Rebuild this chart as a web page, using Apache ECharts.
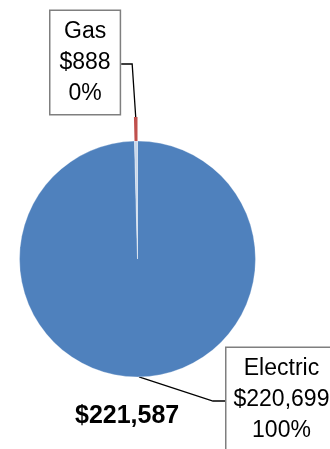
<!DOCTYPE html>
<html>
<head>
    <meta charset="utf-8">
    <title>Energy cost pie</title>
    <script src="https://cdn.jsdelivr.net/npm/echarts@6/dist/echarts.min.js"></script>
    <style>
        html, body { margin: 0; padding: 0; background: #fff; }
        #main { width: 330px; height: 449px; }
    </style>
</head>
<body>
<div id="main"></div>
<script>
    // data
    var names = ['Electric', 'Gas'];
    var values = [220699, 888];
    var colors = ['#4f81bd', '#c0504d'];

    var FONT = '"Liberation Sans", Arial, sans-serif';

    // where the label boxes sit (left / top of box), and which ring carries the label
    var boxPos = {
        Electric: { left: 225, top: 348, side: 'right', pad: [5, 7], series: 0 },
        Gas: { left: 49, top: 11, side: 'left', pad: [5, 9], series: 1 }
    };

    function money(v) {
        return '$' + String(v).replace(/\B(?=(\d{3})+(?!\d))/g, ',');
    }

    var total = values.reduce(function (a, b) { return a + b; }, 0);

    function labelCfg(name, show) {
        return {
            show: show,
            position: 'outside',
            formatter: function (p) {
                return p.name + '\n' + money(p.value) + '\n' + p.percent + '%';
            },
            color: '#000',
            fontFamily: FONT,
            fontSize: 23,
            lineHeight: 31,
            align: 'center',
            backgroundColor: '#fff',
            borderColor: '#7f7f7f',
            borderWidth: 1.5,
            padding: boxPos[name].pad
        };
    }

    // inner pie: the main disc
    var innerData = names.map(function (n, i) {
        return {
            name: n,
            value: values[i],
            itemStyle: { color: i === 0 ? colors[0] : '#c8d6ea' },
            label: labelCfg(n, boxPos[n].series === 0),
            labelLine: { show: boxPos[n].series === 0 }
        };
    });

    // outer ring: only the small gas slice sticks out
    var outerData = names.map(function (n, i) {
        return {
            name: n,
            value: values[i],
            itemStyle: { color: i === 0 ? 'rgba(0,0,0,0)' : colors[1] },
            label: labelCfg(n, boxPos[n].series === 1),
            labelLine: { show: boxPos[n].series === 1 }
        };
    });

    function placeLabel(params) {
        var name = names[params.dataIndex];
        var b = boxPos[name];
        if (!b || b.series !== params.seriesIndex || !params.labelLinePoints) return;
        var w = params.labelRect.width;
        var h = params.labelRect.height;
        var midY = b.top + h / 2;
        var p0 = params.labelLinePoints[0];
        var endX = b.side === 'left' ? b.left + w : b.left;
        var bendX = b.side === 'left' ? endX + 11 : endX - 12;
        return {
            x: b.left + w / 2,
            y: b.top,
            align: 'center',
            verticalAlign: 'top',
            labelLinePoints: [p0, [bendX, midY], [endX, midY]]
        };
    }

    var common = {
        type: 'pie',
        center: [137.5, 259],
        startAngle: 90,
        clockwise: true,
        percentPrecision: 0,
        avoidLabelOverlap: false,
        silent: true,
        animation: false,
        labelLine: {
            show: true,
            length: 10,
            length2: 10,
            lineStyle: { color: '#000', width: 1.3 }
        },
        labelLayout: placeLabel
    };

    var option = {
        animation: false,
        title: {
            text: money(total),
            left: 75,
            top: 404,
            padding: 0,
            textStyle: { fontFamily: FONT, fontSize: 25, fontWeight: 'bold', color: '#000' }
        },
        series: [
            Object.assign({}, common, {
                radius: [0, 118],
                itemStyle: { borderColor: '#fff', borderWidth: 0.3 },
                data: innerData
            }),
            Object.assign({}, common, {
                radius: [118, 142],
                itemStyle: { borderWidth: 0 },
                data: outerData
            })
        ]
    };

    var myChart = echarts.init(document.getElementById('main'));
    myChart.setOption(option);
</script>
</body>
</html>
